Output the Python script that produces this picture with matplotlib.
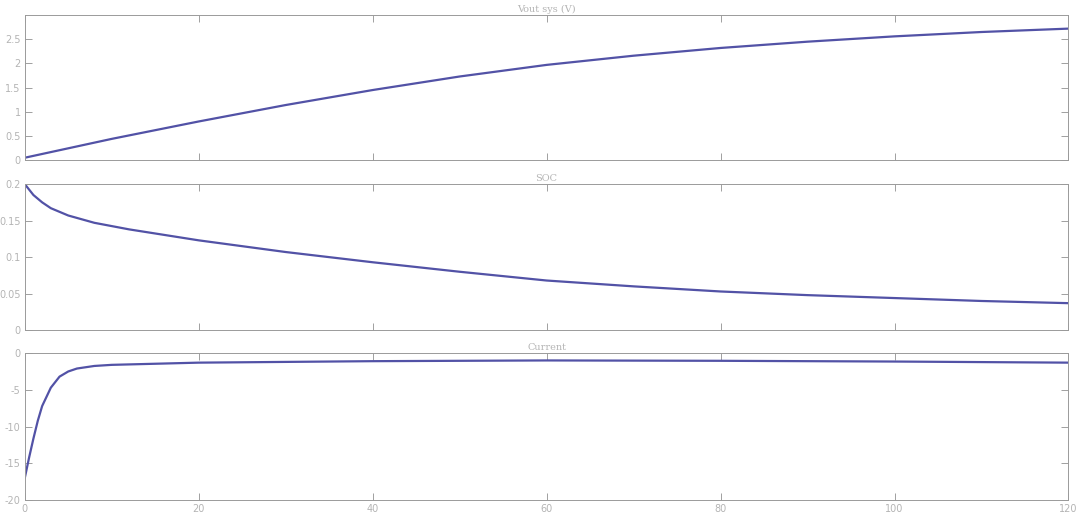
import matplotlib
matplotlib.use('Agg')
import matplotlib.pyplot as plt
import numpy as np

# time axis for each trace
t_volt = [0, 10, 20, 30, 40, 50, 60, 70, 80, 90, 100, 110, 120]
volt = [0.05, 0.44, 0.80, 1.14, 1.45, 1.73, 1.97, 2.16, 2.32, 2.45, 2.56, 2.65, 2.72]

t_soc = [0, 1, 2, 3, 5, 8, 12, 20, 30, 40, 50, 60, 70, 80, 90, 100, 110, 120]
soc = [0.200, 0.185, 0.175, 0.167, 0.157, 0.147, 0.138, 0.123, 0.107, 0.093,
       0.080, 0.068, 0.060, 0.053, 0.048, 0.044, 0.040, 0.037]

t_cur = [0, 0.5, 1, 1.5, 2, 3, 4, 5, 6, 8, 10, 20, 40, 60, 80, 100, 120]
current = [-17.0, -14.2, -11.6, -9.2, -7.2, -4.7, -3.2, -2.5, -2.1, -1.75,
           -1.6, -1.3, -1.1, -1.0, -1.05, -1.15, -1.3]

titles = ['Vout sys (V)', 'SOC', 'Current']
x_ticks = [0, 20, 40, 60, 80, 100, 120]
y_ticks = [[0, 0.5, 1, 1.5, 2, 2.5], [0, 0.05, 0.1, 0.15, 0.2], [-20, -15, -10, -5, 0]]
y_labels = [['0', '0.5', '1', '1.5', '2', '2.5'],
            ['0', '0.05', '0.1', '0.15', '0.2'],
            ['-20', '-15', '-10', '-5', '0']]
y_lims = [(0, 3), (0, 0.2), (-20, 0)]

line_color = '#5252a6'
faint = '#b4b4b4'

fig = plt.figure(figsize=(10.76, 5.2), dpi=100, facecolor='white')
boxes = [[0.023, 0.692, 0.970, 0.279],
         [0.023, 0.365, 0.970, 0.281],
         [0.023, 0.038, 0.970, 0.283]]

series = [(t_volt, volt), (t_soc, soc), (t_cur, current)]

for i, (box, (tx, ty)) in enumerate(zip(boxes, series)):
    ax = fig.add_axes(box)
    ax.plot(tx, ty, color=line_color, linewidth=1.6)
    ax.set_xlim(0, 120)
    ax.set_ylim(*y_lims[i])
    ax.set_xticks(x_ticks)
    ax.set_yticks(y_ticks[i])
    ax.set_yticklabels(y_labels[i])
    if i < 2:
        ax.set_xticklabels([])
    ax.tick_params(direction='in', top=True, right=True, length=5,
                   width=0.7, colors='#a0a0a0', labelcolor=faint,
                   labelsize=7, pad=3)
    for s in ax.spines.values():
        s.set_color('#9a9a9a')
        s.set_linewidth(0.7)
    ax.set_title(titles[i], fontsize=7, color=faint, pad=2, family='serif')

fig.savefig('out.png', dpi=100, facecolor='white')
